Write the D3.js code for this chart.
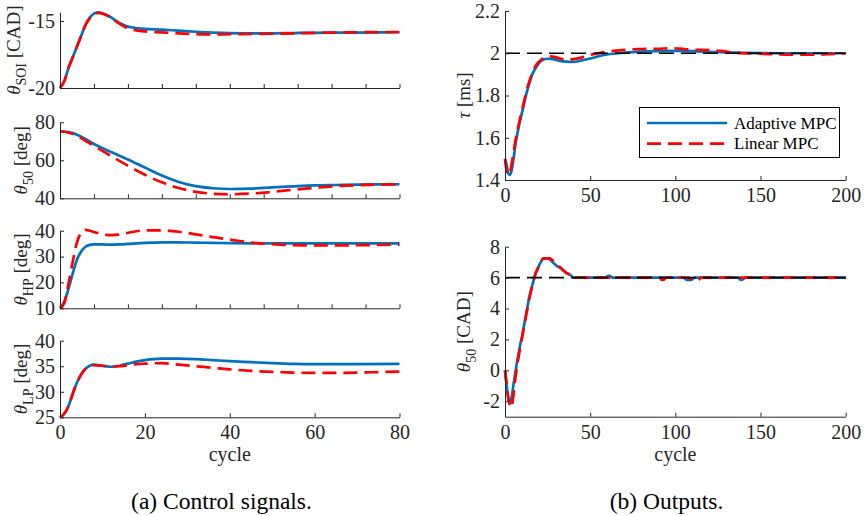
<!DOCTYPE html>
<html><head><meta charset="utf-8">
<script src="https://cdn.jsdelivr.net/npm/d3@7"></script>
<style>body{margin:0;background:#fff}svg{display:block}svg text{font-family:"Liberation Serif","DejaVu Serif",serif !important}</style>
</head><body><svg id="c" width="864" height="516"></svg>
<script>
// ---------- DATA ----------
// (a) Control signals, cycles 0..80
const soiCycB = [0,1,2,3,4,5,6,7,8,9,10,12,14,16,18,20,24,28,32,36,40,45,50,55,60,65,70,75,80];
const soiAdaptive = [-20,-19.5,-18.5,-17.7,-16.9,-16.1,-15.3,-14.75,-14.45,-14.35,-14.42,-14.72,-15.15,-15.42,-15.52,-15.58,-15.64,-15.72,-15.8,-15.86,-15.9,-15.92,-15.92,-15.9,-15.88,-15.87,-15.86,-15.85,-15.84];
const soiLinear   = [-20,-19.5,-18.5,-17.7,-16.9,-16.1,-15.3,-14.8,-14.5,-14.4,-14.45,-14.75,-15.2,-15.55,-15.7,-15.78,-15.85,-15.92,-15.98,-16.0,-15.99,-15.97,-15.95,-15.92,-15.89,-15.86,-15.84,-15.83,-15.82];

const t50Cyc = [0,2,4,6,8,10,12,14,16,18,20,24,28,32,36,40,45,50,55,60,65,70,75,80];
const t50Adaptive = [75.3,74.8,73.5,71.2,68.6,66.4,64.4,62.4,60.4,58.3,56.2,52.0,48.6,46.4,45.3,44.9,45.1,45.7,46.3,46.8,47.0,47.2,47.3,47.4];
const t50Linear   = [75.3,74.6,72.9,70.3,67.6,65.0,62.3,59.7,57.2,54.7,52.4,48.4,45.4,43.4,42.4,42.1,42.5,43.4,44.5,45.5,46.4,46.9,47.2,47.4];

const hpCycA = [0,1,2,3,4,5,6,7,8,10,12,14,16,20,24,28,32,36,40,50,60,70,80];
const hpAdaptive = [10,12.5,17.5,23.5,28.8,32.0,33.8,34.5,34.7,34.7,34.6,34.7,34.9,35.3,35.5,35.5,35.4,35.3,35.2,35.1,35.1,35.1,35.1];
const hpCycL = [0,1,2,3,4,5,6,7,8,10,12,14,16,18,20,24,28,32,36,40,45,50,55,60,65,70,75,80];
const hpLinear = [10,12.0,19.5,28.0,35.5,39.2,40.3,40.0,39.5,38.7,38.3,38.5,39.2,39.8,40.1,40.1,39.6,38.6,37.5,36.6,35.4,34.8,34.4,34.3,34.3,34.4,34.5,34.6];

const lpCycA = [0,1,2,3,4,5,6,7,8,10,12,14,16,18,20,24,28,32,36,40,45,50,55,60,70,80];
const lpAdaptive = [25,25.7,27.2,29.6,31.8,33.4,34.5,35.1,35.3,35.1,34.9,35.1,35.5,35.9,36.2,36.5,36.5,36.4,36.2,36.0,35.8,35.6,35.45,35.4,35.4,35.45];
const lpCycL = [0,1,2,3,4,5,6,7,8,10,12,14,16,18,20,24,28,32,36,40,45,50,55,60,65,70,75,80];
const lpLinear = [25,25.7,27.2,29.6,31.8,33.4,34.5,35.0,35.2,35.1,34.9,35.0,35.2,35.4,35.5,35.6,35.3,35.0,34.7,34.4,34.1,33.9,33.75,33.7,33.7,33.75,33.85,33.95];

// (b) Outputs, cycles 0..200
const tauCycA = [0,1,2,3,4,5,6,8,10,12,14,16,18,20,22,25,28,32,36,40,45,50,55,60,70,80,90,100,110,120,130,140,150,160,180,200];
const tauAdaptive = [1.50,1.47,1.43,1.425,1.45,1.50,1.56,1.65,1.72,1.79,1.85,1.90,1.93,1.955,1.968,1.974,1.972,1.964,1.96,1.959,1.966,1.975,1.986,1.994,2.003,2.008,2.01,2.011,2.01,2.007,2.004,2.002,2.001,2.0,2.0,2.0];
const tauCycL = [0,1,2,3,4,5,6,8,10,12,14,16,18,20,22,25,28,32,36,40,44,48,52,56,60,65,70,75,80,90,98,105,110,115,122,128,134,140,148,158,167,178,187,195,200];
const tauLinear = [1.50,1.44,1.425,1.44,1.48,1.53,1.58,1.66,1.73,1.80,1.86,1.905,1.94,1.96,1.975,1.985,1.984,1.976,1.97,1.972,1.978,1.988,1.996,2.002,2.007,2.012,2.016,2.019,2.02,2.021,2.024,2.02,2.017,2.016,2.014,2.01,2.003,2.0,1.998,1.996,1.993,1.993,1.995,1.997,2.0];
const tauRef = 2;

const camCycA = [0,1,2,3,4,5,6,7,8,9,10,11,12,13,14,15,16,17,18,19,20,21,22,23,24,25,26,27,28,29,30,31,32,33,34,35,36,37,38,39,40,59,60,61,62,63,105,106,107,108,109,110,111,137,138,139,140,141,200];
const camAdaptive = [0,-1.0,-1.96,-2.1,-1.7,-0.9,-0.2,0.5,1.1,1.7,2.2,2.8,3.4,4.0,4.6,5.1,5.5,5.9,6.3,6.5,6.8,7.0,7.2,7.25,7.25,7.25,7.2,7.1,7.0,6.9,6.8,6.7,6.65,6.6,6.5,6.4,6.3,6.25,6.2,6.1,6.0,6.0,6.08,6.12,6.08,6.0,6.0,5.9,5.85,5.85,5.85,5.9,6.0,6.0,5.88,5.85,5.92,6.0,6.0];
const camCycL = [0,1,2,3,4,5,6,7,8,9,10,11,12,13,14,15,16,17,18,19,20,21,22,23,24,25,26,27,28,29,30,31,32,33,34,35,36,37,38,39,40,91,92,93,94,95,108,109,110,111,112,113,114,115,200];
const camLinear = [0,-0.9,-1.8,-2.35,-2.4,-1.6,-0.6,0.2,0.9,1.5,2.1,2.7,3.3,3.9,4.5,5.0,5.5,5.9,6.3,6.55,6.8,7.0,7.2,7.25,7.25,7.25,7.25,7.2,7.1,7.0,6.9,6.8,6.7,6.6,6.5,6.4,6.3,6.25,6.2,6.15,6.0,6.0,5.85,5.85,5.95,6.0,6.0,5.9,5.85,5.85,5.85,5.85,5.9,6.0,6.0];
const camRef = 6;

const seriesNames = ["Adaptive MPC","Linear MPC"];

// ---------- STYLE ----------
const FONT = "Liberation Serif";
const BLUE = "#0072BD", RED = "#FF0000", AX = "#262626";
const svg = d3.select("#c").attr("font-family", FONT);

function zip(xs, ys){ return xs.map((x,i)=>[x, ys[i]]); }

function panel(o){
  const x = d3.scaleLinear().domain(o.xd).range(o.xr);
  const y = d3.scaleLinear().domain(o.yd).range(o.yr);
  const g = svg.append("g");
  const line = d3.line().x(d=>x(d[0])).y(d=>y(d[1])).curve(o.curve || d3.curveMonotoneX);
  o.series.forEach(s=>{
    g.append("path").attr("d", line(s.data)).attr("fill","none")
      .attr("stroke", s.color).attr("stroke-width", 2.7)
      .attr("stroke-dasharray", s.dash || null)
      .attr("stroke-linejoin","round");
  });
  if (o.ref !== undefined){
    g.append("path").attr("d", line([[o.xd[0], o.ref],[o.xd[1], o.ref]]))
      .attr("stroke","#000").attr("stroke-width",1.6).attr("stroke-dasharray","15,7").attr("fill","none");
  }
  const xa = d3.axisBottom(x).tickValues(o.xt).tickSizeInner(-4).tickSizeOuter(0).tickPadding(8)
    .tickFormat(o.xlab ? d3.format("d") : "");
  const ya = d3.axisLeft(y).tickValues(o.yt).tickSizeInner(-4).tickSizeOuter(0).tickPadding(5)
    .tickFormat(o.yfmt || (d=>String(d)));
  const gx = g.append("g").attr("transform",`translate(0,${o.yr[0]})`).call(xa);
  const gy = g.append("g").attr("transform",`translate(${o.xr[0]},0)`).call(ya);
  [gx,gy].forEach(a=>{
    a.attr("font-family", FONT).attr("font-size", 20);
    a.selectAll("path,line").attr("stroke",AX).attr("stroke-width",1);
    a.selectAll("text").attr("fill",AX);
  });
  // y label
  const cy = (o.yr[0]+o.yr[1])/2;
  const t = g.append("text").attr("transform",`translate(${o.lx},${cy}) rotate(-90)`)
    .attr("text-anchor","middle").attr("fill",AX).attr("font-size", 19);
  t.append("tspan").attr("font-style","italic").text(o.lab[0]);
  if (o.lab[1]) t.append("tspan").attr("dy",6).attr("font-size", 14).text(o.lab[1]);
  t.append("tspan").attr("dy", o.lab[1] ? -6 : 0).text(o.lab[2]);
  if (o.xtitle){
    g.append("text").attr("x",(o.xr[0]+o.xr[1])/2).attr("y",o.xtitleY).attr("text-anchor","middle")
      .attr("fill",AX).attr("font-size", 20).text("cycle");
  }
  return {x,y,g};
}

const LX = [60, 399.5], RX = [505, 845.7];
const ticks8 = d3.range(0, 81, 8);

panel({xd:[0,80], xr:LX, yd:[-20,-14.35], yr:[88,12.3], xt:ticks8, xlab:false, yt:[-20,-15],
  series:[{data:zip(soiCycB,soiAdaptive),color:BLUE},{data:zip(soiCycB,soiLinear),color:RED,dash:"14,7"}],
  lx:20, lab:["θ","SOI"," [CAD]"]});
panel({xd:[0,80], xr:LX, yd:[40,80], yr:[198.3,122.3], xt:ticks8, xlab:false, yt:[40,60,80],
  series:[{data:zip(t50Cyc,t50Adaptive),color:BLUE},{data:zip(t50Cyc,t50Linear),color:RED,dash:"14,7"}],
  lx:27, lab:["θ","50","  [deg]"]});
panel({xd:[0,80], xr:LX, yd:[10,40], yr:[308.3,230.7], xt:ticks8, xlab:false, yt:[10,20,30,40],
  series:[{data:zip(hpCycA,hpAdaptive),color:BLUE},{data:zip(hpCycL,hpLinear),color:RED,dash:"14,7"}],
  lx:27, lab:["θ","HP"," [deg]"]});
panel({xd:[0,80], xr:LX, yd:[25,40], yr:[417.3,340.7], xt:[0,20,40,60,80], xlab:true, yt:[25,30,35,40],
  series:[{data:zip(lpCycA,lpAdaptive),color:BLUE},{data:zip(lpCycL,lpLinear),color:RED,dash:"14,7"}],
  lx:27, lab:["θ","LP"," [deg]"], xtitle:true, xtitleY:461});

panel({xd:[0,200], xr:RX, yd:[1.4,2.2], yr:[180,11], xt:[0,50,100,150,200], xlab:true, yt:[1.4,1.6,1.8,2,2.2],
  yfmt:d=>String(+d.toFixed(1)),
  series:[{data:zip(tauCycA,tauAdaptive),color:BLUE},{data:zip(tauCycL,tauLinear),color:RED,dash:"14,7"}],
  ref:tauRef, lx:470, lab:["τ","", " [ms]"]});
panel({xd:[0,200], xr:RX, yd:[-3,8], yr:[416.7,246.7], xt:[0,50,100,150,200], xlab:true, yt:[-2,0,2,4,6,8],
  curve:d3.curveLinear,
  series:[{data:zip(camCycA,camAdaptive),color:BLUE},{data:zip(camCycL,camLinear),color:RED,dash:"14,7"}],
  ref:camRef, lx:470, lab:["θ","50"," [CAD]"], xtitle:true, xtitleY:461});

// legend
const lg = svg.append("g");
lg.append("rect").attr("x",639.5).attr("y",107.5).attr("width",200).attr("height",50)
  .attr("fill","#fff").attr("stroke","#000").attr("stroke-width",1);
seriesNames.forEach((n,i)=>{
  const yy = 123 + i*20.7;
  lg.append("line").attr("x1",647).attr("x2",727).attr("y1",yy).attr("y2",yy)
    .attr("stroke", i?RED:BLUE).attr("stroke-width",2.7).attr("stroke-dasharray", i?"14,7":null);
  lg.append("text").attr("x",734).attr("y",yy+5.5).attr("fill","#000").attr("font-size",17).text(n);
});

// captions
svg.append("text").attr("x",221.5).attr("y",509).attr("text-anchor","middle").attr("fill","#000")
  .attr("font-size",23.5).text("(a) Control signals.");
svg.append("text").attr("x",666.5).attr("y",509).attr("text-anchor","middle").attr("fill","#000")
  .attr("font-size",23.5).text("(b) Outputs.");
</script></body></html>
